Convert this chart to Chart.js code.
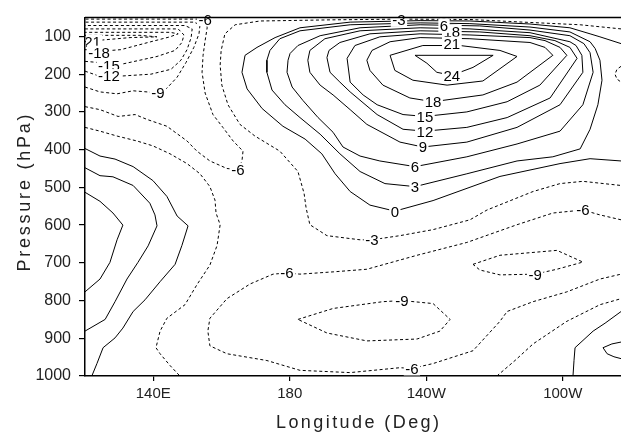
<!DOCTYPE html>
<html><head><meta charset="utf-8">
<style>html,body{margin:0;padding:0;background:#fff;overflow:hidden;width:621px;height:433px}canvas{display:block}</style>
<script src="https://cdn.jsdelivr.net/npm/chart.js@4.4.1/dist/chart.umd.min.js"></script>
</head><body><canvas id="c" width="640" height="433"></canvas>
<script>
// Axis ticks
const xTickValues = [140, 180, 220, 260];
const xTickLabels = ['140E', '180', '140W', '100W'];
const yTickValues = [100, 200, 300, 400, 500, 600, 700, 800, 900, 1000];

// Contour lines: [longitude (deg E), pressure (hPa)]
const neg21 = [[120,114],[125.6,109],[133.2,103],[141.1,101],[136.1,97],[127.3,97],[120,97]];
const neg18 = [[120,135],[127.6,137],[130.5,135],[139.3,114],[144.9,101],[147.3,93],[144.9,89],[130.3,89],[120,89]];
const neg15 = [[120,166],[130.5,174],[141.1,153],[146.4,137],[148.4,116],[149,96],[147.3,80],[133.2,80],[120,80]];
const neg12 = [[120,192],[123.5,203],[130.5,205],[139.3,200],[145.2,187],[148.1,163],[149.9,135],[151.1,103],[151.4,80],[149.3,71],[136.1,71],[120,71]];
const neg9a = [[120,234],[124.4,247],[129.4,252],[134.1,244],[138.2,247],[142,250],[144,237],[147,208],[149.6,169],[151.9,129],[153.4,93],[153.7,69],[151.9,62],[139,62],[120,62]];
const neg6a = [[120,286],[124.4,294],[129.7,312],[134.7,307],[138.2,320],[144,338],[149.9,377],[152.8,404],[156.6,430],[161.6,450],[164.8,453],[166,430],[166.3,404],[163.4,377],[160.4,341],[157.5,307],[155.2,250],[154.3,195],[154.6,150],[155.2,111],[155.8,77],[155.5,59],[153.7,54],[139,54],[120,54]];
const neg3a = [[120,341],[124.4,351],[129.4,364],[135.2,377],[139.9,390],[144.9,411],[149.9,437],[153.7,464],[156.6,498],[158.1,534],[158.4,568],[159.6,599],[158.7,654],[156.6,706],[152.8,758],[149.3,811],[144,847],[142,881],[140.8,925],[142,941],[144.9,972],[147.8,1000]];
const zeroA = [[120,397],[124.4,417],[128.8,425],[134.1,445],[139.9,482],[144,524],[147,576],[150.2,602],[148.4,654],[146.4,704],[142,750],[137.6,798],[134.1,829],[131.1,873],[128.8,899],[125.3,925],[123.5,967],[122,1000]];
const pos3a = [[120,448],[124.4,469],[128.2,472],[134.1,495],[139,542],[140.5,573],[141.1,602],[138.5,655],[135.5,699],[132.3,743],[128.8,803],[125.9,850],[120,881]];
const pos6a = [[120,513],[124.4,537],[128.2,568],[131.1,600],[129.4,639],[127.3,699],[124.4,743],[120,777]];
const neg3b = [[277.1,80],[265.1,69],[248.4,62],[232.8,55],[212.3,54],[191.8,56],[171.3,59],[164,69],[161,93],[159.9,137],[159.6,176],[160.1,229],[161.9,281],[165.4,333],[169.8,364],[177.1,404],[182.4,458],[184.2,516],[184.8,555],[185.9,599],[190.9,628],[200.6,639],[204.1,639],[212.3,628],[222,612],[232.8,586],[237.8,560],[251.3,511],[259.2,490],[265.9,484],[277.1,495]];
const zeroB = [[277.1,119],[270.9,101],[268,93],[262.1,77],[250.4,67],[232.8,59],[218.2,58],[197.7,62],[183,77],[175.7,103],[170.4,129],[166.9,150],[166,195],[167.5,239],[171.9,291],[178,338],[184.5,372],[189.4,411],[193.3,464],[197.7,511],[203.5,547],[210.8,563],[222,535],[241.6,471],[259.2,437],[268,424],[277.1,430]];
const pos3b = [[173.3,163],[173.3,195],[174.8,242],[178.6,281],[183,315],[188.9,359],[194.7,411],[200.6,458],[207.9,490],[216.7,498],[231.9,464],[246.6,430],[257.1,419],[265.1,398],[268,346],[270.3,281],[271.5,216],[270.9,163],[269.5,132],[268,114],[262.1,88],[250.4,75],[232.8,66],[218.2,64],[197.7,69],[183,85],[177.1,106],[174.2,137],[173.3,163]];
const pos6b = [[179.5,163],[179.2,195],[180.7,234],[183.9,270],[188.3,315],[192.7,354],[195.6,393],[200.6,417],[206.4,430],[216.7,445],[231.9,419],[246.6,385],[259.2,351],[265.9,281],[268.9,195],[268,143],[266.2,119],[262.1,98],[250.4,83],[235.7,72],[218.2,69],[200.6,77],[188.9,98],[182.4,124],[180.1,145],[179.5,163]];
const pos9 = [[185.3,163],[185.9,195],[188.9,229],[192.7,255],[197.7,294],[202.6,333],[212.3,380],[219,393],[231.9,380],[246.6,341],[259.2,281],[265.9,195],[265.6,150],[263.9,124],[262.1,114],[250.4,90],[232.8,80],[218.2,77],[200.6,85],[190.3,106],[185.9,137],[185.3,163]];
const pos12 = [[190.9,156],[191.8,195],[194.7,221],[197.7,247],[205.6,307],[213.2,346],[219.6,351],[231.9,341],[243.7,315],[256.3,263],[264.2,158],[262.1,129],[257.7,111],[250.4,98],[235.7,88],[218.2,85],[203.5,93],[194.7,116],[191.5,137],[190.9,156]];
const pos15 = [[196.8,158],[197.7,221],[201.5,255],[205.6,281],[213.2,307],[219.6,312],[231.9,300],[243.7,273],[253.3,229],[261.2,150],[259.2,129],[254.8,111],[250.4,103],[232.8,96],[218.2,93],[206.4,101],[199.1,124],[196.8,158]];
const pos18 = [[202.6,163],[203.5,190],[207.3,229],[215.2,263],[222,273],[236.6,255],[246.6,221],[257.1,150],[254.8,129],[250.4,116],[232.8,106],[218.2,103],[209.4,114],[204.1,137],[202.6,163]];
const pos21 = [[209.4,150],[210.8,190],[216.1,216],[226.1,229],[236.6,218],[246.6,153],[241.6,137],[229.9,124],[219,124],[209.4,150]];
const pos24 = [[216.7,150],[220.2,171],[223.1,195],[227.5,203],[233.7,182],[239.6,150],[216.7,150]];
const neg6b = [[277.1,586],[270.9,573],[265.9,560],[257.1,568],[246.6,599],[231.9,646],[217.3,680],[202.6,717],[192.7,724],[183,730],[179.2,727],[175.1,730],[168.4,756],[161.6,795],[156.6,847],[156,881],[156.6,920],[161.6,941],[173.3,959],[183,985],[197.7,991],[212.3,978],[215.8,980],[222,967],[233.7,933],[241.6,855],[243.7,829],[251.3,803],[261.2,777],[270.9,743],[277.1,730]];
const neg9b = [[182.4,850],[192.7,821],[207.3,803],[212.9,800],[222,808],[227,850],[224,881],[217.3,902],[202.6,907],[190.9,886],[182.4,850]];
const neg9c = [[233.7,704],[241.6,680],[258.3,667],[265.9,698],[258.3,717],[251.9,730],[241.6,732],[235.7,719],[233.7,704]];
const neg3c = [[240.7,1000],[246,959],[251.3,915],[261.2,855],[270.9,811],[277.1,795]];
const zeroC = [[263,1000],[263.3,959],[263.6,925],[268.9,881],[272.4,860],[277.1,829]];
const pos3c = [[277.1,910],[274.4,915],[271.8,925],[273,941],[275,949],[277.1,954]];
const neg3d = [[277.1,179],[275.9,187],[275.3,200],[275.9,213],[277.1,221]];

const contourLines = [neg21, neg18, neg15, neg12, neg9a, neg6a, neg3a, zeroA, pos3a, pos6a,
  neg3b, zeroB, pos3b, pos6b, pos9, pos12, pos15, pos18, pos21, pos24,
  neg6b, neg9b, neg9c, neg3c, zeroC, pos3c, neg3d];
const contourLevels = [-21, -18, -15, -12, -9, -6, -3, 0, 3, 6,
  -3, 0, 3, 6, 9, 12, 15, 18, 21, 24,
  -6, -9, -9, -3, 0, 3, -3];

// Contour labels
const labelText = ['-21','-18','-15','-12','-9','-6','-6','-3','18','6','21','24','18','15','12','9','6','3','0','-3','-6','-9','-6','-9','-6'];
const labelLon  = [121.5,124.1,127,127,141.4,164.8,155.2,212,227.5,225.2,227.5,227.5,222,219.6,219.6,219,216.7,216.7,210.8,204.1,265.9,251.9,179.2,212.9,215.8];
const labelP    = [114,143,177,205,250,453,54,56,88,72,119,203,273,312,351,393,446,498,563,639,560,730,727,800,980];

const FONT = '"Liberation Sans", Arial, sans-serif';

const datasets = contourLines.map((pts, i) => ({
  data: pts.map(([x, y]) => ({x, y})),
  showLine: true,
  pointRadius: 0,
  borderColor: '#000',
  borderWidth: 1,
  borderDash: contourLevels[i] < 0 ? [3, 2.5] : [],
  tension: 0,
  fill: false
}));

function drawSpaced(ctx, text, cx, by, target) {
  ctx.textAlign = 'left';
  ctx.textBaseline = 'alphabetic';
  const widths = [...text].map(ch => ctx.measureText(ch).width);
  const w0 = widths.reduce((a, b) => a + b, 0);
  const sp = (target - w0) / (text.length - 1);
  if ('letterSpacing' in ctx) {
    ctx.letterSpacing = sp + 'px';
    ctx.fillText(text, cx - target / 2, by);
    ctx.letterSpacing = '0px';
  } else {
    let x = cx - target / 2;
    [...text].forEach((ch, i) => { ctx.fillText(ch, x, by); x += widths[i] + sp; });
  }
}

const overlay = {
  id: 'overlay',
  afterDatasetsDraw(chart) {
    const {ctx, chartArea: a} = chart;
    const xs = chart.scales.x, ys = chart.scales.y;
    ctx.save();
    ctx.beginPath();
    ctx.rect(a.left + 1, 0, chart.width, chart.height);
    ctx.clip();
    ctx.font = '15px ' + FONT;
    labelText.forEach((t, i) => {
      const px = xs.getPixelForValue(labelLon[i]);
      const py = ys.getPixelForValue(labelP[i]);
      const w = ctx.measureText(t).width;
      ctx.fillStyle = '#fff';
      ctx.fillRect(px - w / 2 - 1.5, py - 7, w + 3, 14);
      ctx.fillStyle = '#000';
      ctx.textAlign = 'center';
      ctx.textBaseline = 'alphabetic';
      ctx.fillText(t, px, py + 5.4);
    });
    ctx.restore();
    ctx.save();
    ctx.strokeStyle = '#000';
    ctx.lineWidth = 1.5;
    ctx.beginPath();
    ctx.moveTo(a.left, a.top);
    ctx.lineTo(a.right, a.top);
    ctx.stroke();
    ctx.restore();
  },
  afterDraw(chart) {
    const ctx = chart.ctx;
    ctx.save();
    ctx.fillStyle = '#222';
    ctx.font = '18px ' + FONT;
    drawSpaced(ctx, 'Longitude (Deg)', 357.5, 428, 163);
    ctx.translate(30, 193);
    ctx.rotate(-Math.PI / 2);
    drawSpaced(ctx, 'Pressure (hPa)', 0, 0, 157);
    ctx.restore();
  }
};

new Chart(document.getElementById('c'), {
  type: 'scatter',
  data: { datasets },
  plugins: [overlay],
  options: {
    responsive: false,
    animation: false,
    events: [],
    layout: { padding: { top: 12, right: 9, left: 0, bottom: 0 } },
    plugins: { legend: { display: false }, tooltip: { enabled: false } },
    scales: {
      x: {
        type: 'linear', min: 120, max: 280, position: 'bottom',
        afterBuildTicks: s => { s.ticks = xTickValues.map(v => ({ value: v })); },
        afterFit: s => { s.height = 57; },
        ticks: {
          autoSkip: false, maxRotation: 0, padding: 4, color: '#222',
          font: { family: FONT, size: 15 },
          callback: v => { const i = xTickValues.indexOf(v); return i >= 0 ? xTickLabels[i] : ''; }
        },
        grid: { drawOnChartArea: false, drawTicks: true, tickLength: 5, color: '#000', lineWidth: 1.2 },
        border: { display: true, color: '#000', width: 1.5 }
      },
      y: {
        type: 'linear', reverse: true, min: 50, max: 1000, position: 'left',
        afterBuildTicks: s => { s.ticks = yTickValues.map(v => ({ value: v })); },
        afterFit: s => { s.width = 85; },
        ticks: { autoSkip: false, padding: 8, color: '#222', font: { family: FONT, size: 16 },
          callback: v => String(v) },
        grid: { drawOnChartArea: false, drawTicks: true, tickLength: 6, color: '#000', lineWidth: 1.2 },
        border: { display: true, color: '#000', width: 1.5 }
      }
    }
  }
});
</script>
</body></html>
